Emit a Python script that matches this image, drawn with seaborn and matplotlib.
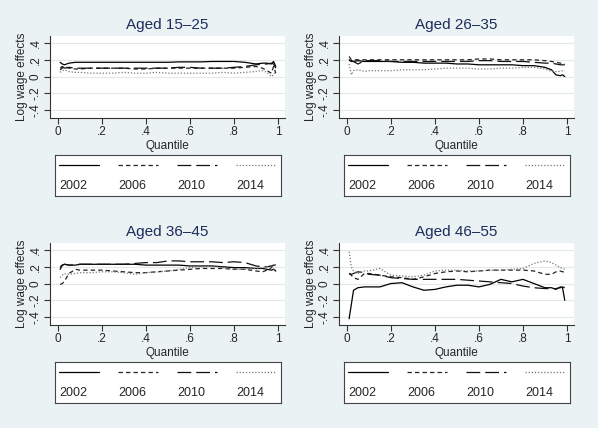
import matplotlib
matplotlib.use("Agg")
import matplotlib.pyplot as plt
import seaborn as sns
import pandas as pd

quantiles = [0.01, 0.02, 0.03, 0.05, 0.08, 0.1, 0.15, 0.2, 0.25, 0.3, 0.35, 0.4, 0.45, 0.5,
             0.55, 0.6, 0.65, 0.7, 0.75, 0.8, 0.85, 0.9, 0.93, 0.95, 0.97, 0.98, 0.99]
years = ["2002", "2006", "2010", "2014"]
titles = ["Aged 15\u201325", "Aged 26\u201335", "Aged 36\u201345", "Aged 46\u201355"]

# Aged 15-25
a1_2002 = [0.17, 0.15, 0.14, 0.16, 0.17, 0.17, 0.17, 0.17, 0.17, 0.17, 0.17, 0.17, 0.17, 0.17,
           0.175, 0.175, 0.175, 0.18, 0.18, 0.18, 0.17, 0.15, 0.16, 0.16, 0.15, 0.18, 0.12]
a1_2006 = [0.08, 0.10, 0.12, 0.10, 0.09, 0.09, 0.10, 0.10, 0.10, 0.10, 0.09, 0.09, 0.10, 0.10,
           0.10, 0.10, 0.10, 0.10, 0.10, 0.10, 0.11, 0.12, 0.10, 0.07, 0.04, 0.12, 0.04]
a1_2010 = [0.10, 0.12, 0.10, 0.11, 0.10, 0.10, 0.10, 0.10, 0.10, 0.10, 0.10, 0.10, 0.10, 0.10,
           0.11, 0.11, 0.10, 0.10, 0.10, 0.11, 0.12, 0.14, 0.15, 0.15, 0.16, 0.15, 0.10]
a1_2014 = [0.05, 0.07, 0.08, 0.06, 0.05, 0.05, 0.04, 0.04, 0.04, 0.05, 0.04, 0.04, 0.05, 0.04,
           0.04, 0.04, 0.04, 0.04, 0.05, 0.04, 0.05, 0.06, 0.07, 0.05, 0.00, 0.02, 0.06]

# Aged 26-35
a2_2002 = [0.20, 0.18, 0.18, 0.19, 0.18, 0.18, 0.18, 0.18, 0.17, 0.17, 0.16, 0.16, 0.16, 0.15,
           0.15, 0.14, 0.14, 0.14, 0.14, 0.13, 0.13, 0.11, 0.08, 0.02, 0.01, 0.02, 0.00]
a2_2006 = [0.24, 0.20, 0.20, 0.20, 0.20, 0.20, 0.20, 0.20, 0.20, 0.20, 0.20, 0.20, 0.20, 0.20,
           0.20, 0.21, 0.21, 0.20, 0.20, 0.20, 0.20, 0.19, 0.18, 0.17, 0.16, 0.16, 0.15]
a2_2010 = [0.19, 0.19, 0.18, 0.15, 0.19, 0.19, 0.19, 0.18, 0.18, 0.18, 0.18, 0.18, 0.18, 0.18,
           0.18, 0.19, 0.19, 0.18, 0.18, 0.18, 0.17, 0.16, 0.16, 0.15, 0.14, 0.14, 0.14]
a2_2014 = [0.15, 0.02, 0.07, 0.08, 0.06, 0.07, 0.07, 0.07, 0.08, 0.08, 0.08, 0.09, 0.10, 0.10,
           0.10, 0.09, 0.09, 0.10, 0.10, 0.11, 0.11, 0.09, 0.06, 0.06, 0.06, 0.07, 0.07]

# Aged 36-45
a3_2002 = [0.17, 0.22, 0.23, 0.22, 0.22, 0.23, 0.23, 0.23, 0.23, 0.23, 0.23, 0.22, 0.22, 0.22,
           0.22, 0.21, 0.21, 0.21, 0.20, 0.19, 0.19, 0.18, 0.18, 0.17, 0.16, 0.17, 0.15]
a3_2006 = [-0.01, 0.00, 0.03, 0.12, 0.17, 0.16, 0.16, 0.16, 0.15, 0.14, 0.13, 0.13, 0.14, 0.15,
           0.16, 0.17, 0.18, 0.18, 0.18, 0.17, 0.17, 0.15, 0.14, 0.16, 0.19, 0.22, 0.23]
a3_2010 = [0.20, 0.22, 0.23, 0.22, 0.22, 0.23, 0.23, 0.23, 0.23, 0.23, 0.24, 0.25, 0.25, 0.27,
           0.27, 0.26, 0.26, 0.26, 0.25, 0.26, 0.25, 0.21, 0.20, 0.20, 0.21, 0.22, 0.22]
a3_2014 = [0.07, 0.10, 0.12, 0.11, 0.12, 0.13, 0.13, 0.14, 0.14, 0.13, 0.11, 0.13, 0.14, 0.15,
           0.17, 0.19, 0.20, 0.21, 0.19, 0.17, 0.17, 0.18, 0.19, 0.20, 0.22, 0.18, 0.14]

# Aged 46-55
a4_2002 = [-0.42, -0.25, -0.08, -0.05, -0.04, -0.04, -0.04, 0.00, 0.01, -0.04, -0.08, -0.07, -0.04, -0.02,
           -0.02, -0.04, -0.01, 0.05, 0.02, 0.05, 0.00, -0.05, -0.05, -0.07, -0.04, -0.05, -0.20]
a4_2006 = [0.12, 0.10, 0.07, 0.05, 0.12, 0.12, 0.10, 0.08, 0.07, 0.05, 0.08, 0.12, 0.14, 0.15,
           0.14, 0.15, 0.16, 0.16, 0.16, 0.16, 0.15, 0.11, 0.11, 0.14, 0.15, 0.14, 0.14]
a4_2010 = [0.12, 0.11, 0.12, 0.14, 0.13, 0.11, 0.10, 0.07, 0.06, 0.05, 0.05, 0.05, 0.05, 0.05,
           0.04, 0.03, 0.02, 0.01, 0.00, -0.03, -0.05, -0.06, -0.06, -0.06, -0.05, -0.04, -0.05]
a4_2014 = [0.38, 0.20, 0.15, 0.12, 0.15, 0.15, 0.18, 0.10, 0.09, 0.08, 0.10, 0.15, 0.16, 0.16,
           0.15, 0.15, 0.16, 0.16, 0.17, 0.18, 0.24, 0.27, 0.25, 0.22, 0.19, 0.18, 0.17]

panels = [
    [a1_2002, a1_2006, a1_2010, a1_2014],
    [a2_2002, a2_2006, a2_2010, a2_2014],
    [a3_2002, a3_2006, a3_2010, a3_2014],
    [a4_2002, a4_2006, a4_2010, a4_2014],
]

palette = {"2002": "black", "2006": "#222222", "2010": "#111111", "2014": "#777777"}
dashes = {"2002": "", "2006": (3.5, 2.5), "2010": (11, 4), "2014": (1, 1.5)}

bg = "#eaf2f3"
sns.set_style("white")
plt.rcParams["font.family"] = ["Liberation Sans", "DejaVu Sans"]

fig = plt.figure(figsize=(5.98, 4.28), dpi=100, facecolor=bg)

# (left, bottom) in pixels of each panel's plot area
origins = [(50, 118), (339, 118), (50, 325), (339, 325)]
W, H = 235, 82

for i, series in enumerate(panels):
    x0, ybot = origins[i]
    ax = fig.add_axes([x0 / 598, 1 - ybot / 428, W / 598, H / 428])
    rows = []
    for yr, vals in zip(years, series):
        for q, v in zip(quantiles, vals):
            rows.append({"Quantile": q, "effect": v, "year": yr})
    df = pd.DataFrame(rows)
    sns.lineplot(data=df, x="Quantile", y="effect", hue="year", style="year",
                 palette=palette, dashes=dashes, linewidth=0.9, legend=False, ax=ax)

    ax.set_xlim(-0.036, 1.032)
    ax.set_ylim(-0.495, 0.484)
    ax.set_xticks([0, 0.2, 0.4, 0.6, 0.8, 1])
    ax.set_xticklabels(["0", ".2", ".4", ".6", ".8", "1"], fontsize=8.5)
    ax.set_yticks([-0.4, -0.2, 0, 0.2, 0.4])
    ax.set_yticklabels(["-.4", "-.2", "0", ".2", ".4"], fontsize=8.5,
                       rotation=90, va="center")
    ax.grid(axis="y", color="#e3e8ea", linewidth=0.8)
    ax.set_axisbelow(True)
    ax.set_facecolor("white")
    for s in ["top", "right"]:
        ax.spines[s].set_visible(False)
    for s in ["left", "bottom"]:
        ax.spines[s].set_color("#333333")
        ax.spines[s].set_linewidth(0.8)
    ax.tick_params(axis="both", length=4, width=0.8, color="#333333", pad=2,
                   left=True, bottom=True)
    ax.set_xlabel("Quantile", fontsize=8.5, labelpad=1.5)
    ax.set_ylabel("Log wage effects", fontsize=8.5, labelpad=1)
    ax.set_title(titles[i], fontsize=11, color="#1e2c5c", pad=5)

    # legend box under each panel
    lx0 = x0 + 5
    lytop = ybot + 37
    lax = fig.add_axes([lx0 / 598, 1 - (lytop + 41) / 428, 226 / 598, 41 / 428])
    lax.set_xlim(0, 226)
    lax.set_ylim(41, 0)
    lax.set_xticks([])
    lax.set_yticks([])
    lax.set_facecolor("white")
    for s in lax.spines.values():
        s.set_color("#444444")
        s.set_linewidth(0.8)
    for k, yr in enumerate(years):
        xs = 4 + 59 * k
        lax.plot([xs, xs + 40], [10, 10], color=palette[yr], linewidth=0.9,
                 dashes=dashes[yr] if dashes[yr] else (None, None))
        lax.text(xs, 31, yr, fontsize=9, va="center", ha="left")

fig.savefig("out.png", dpi=100, facecolor=bg)
